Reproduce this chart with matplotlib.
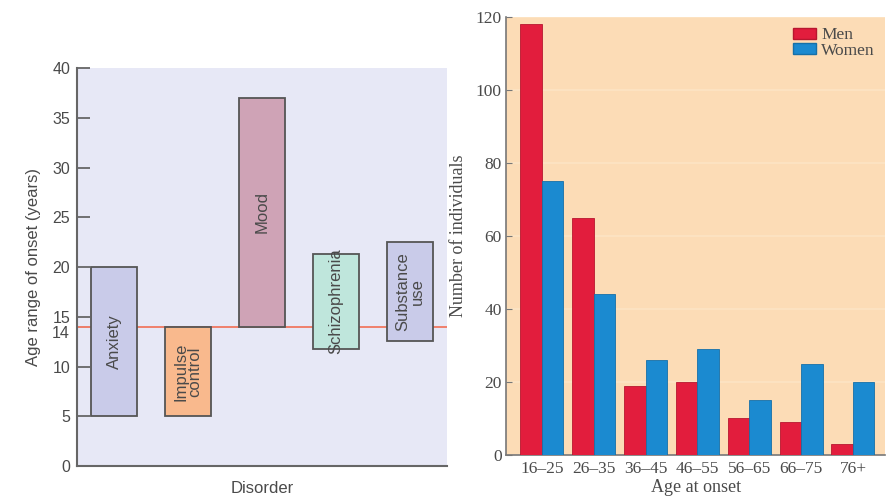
import matplotlib.pyplot as plt
from matplotlib.patches import Patch
from matplotlib.transforms import ScaledTranslation

# left panel: age range of onset per disorder
disorders = ["Anxiety", "Impulse\ncontrol", "Mood", "Schizophrenia", "Substance\nuse"]
onset_low = [5, 5, 14, 11.8, 12.6]
onset_high = [20, 14, 37, 21.3, 22.5]
disorder_colors = ["#c9cbe9", "#f9b98d", "#cfa3b6", "#bfe6dc", "#c9cbe9"]
median_onset = 14
left_ticks = [0, 5, 10, 14, 15, 20, 25, 30, 35, 40]

# right panel: number of individuals by age at onset
age_groups = ["16\u201325", "26\u201335", "36\u201345", "46\u201355", "56\u201365", "66\u201375", "76+"]
men = [118, 65, 19, 20, 10, 9, 3]
women = [75, 44, 26, 29, 15, 25, 20]
right_ticks = [0, 20, 40, 60, 80, 100, 120]

sans = ["Liberation Sans Narrow", "Liberation Sans", "DejaVu Sans"]
serif = ["Liberation Serif", "DejaVu Serif"]
grey = "#4a4a4a"

fig = plt.figure(figsize=(8.91, 4.99), dpi=100)

# ---- left panel
ax1 = fig.add_axes([0.0864, 0.0661, 0.4153, 0.7976])
ax1.set_facecolor("#e7e8f6")
for i in range(len(disorders)):
    ax1.bar(i + 0.5, onset_high[i] - onset_low[i], bottom=onset_low[i], width=0.62,
            color=disorder_colors[i], edgecolor="#555555", linewidth=1.3, zorder=3)
    ax1.text(i + 0.5, (onset_low[i] + onset_high[i]) / 2, disorders[i], rotation=90,
             ha="center", va="center", fontsize=12, color=grey, family=sans,
             linespacing=0.95, zorder=4)
ax1.axhline(median_onset, color="#f0806c", linewidth=1.4, zorder=2)
ax1.set_xlim(0, 5)
ax1.set_ylim(0, 40)
ax1.set_yticks(left_ticks)
ax1.set_xticks([])
for s in ["top", "right"]:
    ax1.spines[s].set_visible(False)
for s in ["left", "bottom"]:
    ax1.spines[s].set_color("#666666")
    ax1.spines[s].set_linewidth(1.5)
ax1.tick_params(axis="y", direction="in", length=9, width=1.3, color="#666666",
                labelsize=11.5, labelcolor=grey, pad=5)
for lab in ax1.get_yticklabels():
    lab.set_family(sans)
# nudge the "14" label down so it does not collide with "15"
t14 = ax1.yaxis.get_major_ticks()[left_ticks.index(14)].label1
t14.set_transform(t14.get_transform() + ScaledTranslation(0, -5 / 100, fig.dpi_scale_trans))
ax1.set_ylabel("Age range of onset (years)", fontsize=12, color=grey, family=sans, labelpad=8)
ax1.set_xlabel("Disorder", fontsize=12, color=grey, family=sans, labelpad=11)

# ---- right panel
ax2 = fig.add_axes([0.568, 0.0882, 0.4254, 0.8778])
ax2.set_facecolor("#fcdcb6")
x = range(len(age_groups))
w = 0.415
ax2.bar([i - w / 2 for i in x], men, width=w, color="#e21d3d", edgecolor="#b8172f",
        linewidth=0.6, zorder=3, label="Men")
ax2.bar([i + w / 2 for i in x], women, width=w, color="#1b8ad0", edgecolor="#1670a8",
        linewidth=0.6, zorder=3, label="Women")
ax2.set_xlim(-0.69, 6.62)
ax2.set_ylim(0, 120)
ax2.set_yticks(right_ticks)
ax2.set_xticks(list(x))
ax2.set_xticklabels(age_groups)
ax2.yaxis.grid(True, color="#fde4c4", linewidth=1.2, zorder=1)
ax2.set_axisbelow(True)
for s in ["top", "right"]:
    ax2.spines[s].set_visible(False)
for s in ["left", "bottom"]:
    ax2.spines[s].set_color("#777777")
    ax2.spines[s].set_linewidth(1.2)
ax2.tick_params(axis="y", direction="in", length=4, color="#777777", labelsize=12.5,
                labelcolor=grey, pad=3)
ax2.tick_params(axis="x", length=0, labelsize=12.5, labelcolor=grey, pad=4)
for lab in ax2.get_yticklabels() + ax2.get_xticklabels():
    lab.set_family(serif)
ax2.set_ylabel("Number of individuals", fontsize=13, color=grey, family=serif, labelpad=6)
ax2.set_xlabel("Age at onset", fontsize=13, color=grey, family=serif, labelpad=2)
handles = [Patch(facecolor="#e21d3d", edgecolor="#b8172f", label="Men"),
           Patch(facecolor="#1b8ad0", edgecolor="#1670a8", label="Women")]
ax2.legend(handles=handles, loc="upper right", frameon=False,
           prop={"family": serif, "size": 12.5}, labelcolor=grey,
           handlelength=1.3, handleheight=0.62, handletextpad=0.3,
           labelspacing=-0.05, borderaxespad=0.2)

fig.savefig("out.png", dpi=100)
